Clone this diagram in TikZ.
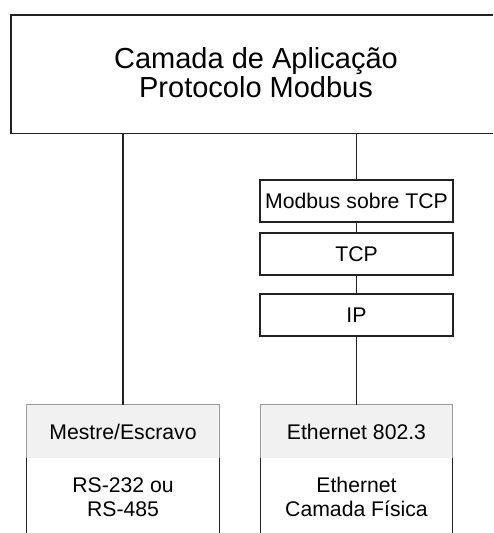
\documentclass[tikz,border=0pt]{standalone}
\usepackage{fontspec}
\setmainfont{Liberation Sans}
\definecolor{edge}{HTML}{222222}
\definecolor{headfill}{HTML}{F1F1F1}
\definecolor{headedge}{HTML}{9A9A9A}
\tikzset{
  wire/.style={draw=edge, line width=1.3pt},
  layer/.style={draw=edge, line width=1.3pt, minimum width=193pt, minimum height=42pt,
    inner sep=0pt, font=\fontsize{21.2}{24}\selectfont},
  head/.style={fill=headfill, draw=none, minimum width=192pt, minimum height=53pt,
    inner sep=0pt, font=\fontsize{21.2}{24}\selectfont},
  body/.style={draw=none, minimum width=192pt, minimum height=75pt, inner sep=0pt, anchor=north},
  bodytext/.style={align=center, inner sep=0pt, font=\fontsize{21.2}{23.5}\selectfont},
}
\begin{document}
\begin{tikzpicture}[x=1pt,y=-1pt]
\useasboundingbox (0,0) rectangle (493,533);

% application layer box, open on the right
\node[draw=none, minimum width=482pt, minimum height=118pt, inner sep=0pt, anchor=north west] (app) at (11,15) {};
\draw[wire] (app.north east) -- (app.north west) -- (app.south west) -- (app.south east);
\node[align=center, inner sep=0pt, font=\fontsize{29}{29.5}\selectfont] (apptext) at (256,72.5)
  {Camada de Aplicação\\Protocolo Modbus};

% TCP/IP stack
\node[layer] (mbt) at (356.5,201) {Modbus sobre TCP};
\node[layer] (tcp) at (356.5,254) {TCP};
\node[layer] (ip)  at (356.5,315) {IP};

% serial physical layer
\node[head] (mhead) at (123,431.5) {Mestre/Escravo};
\node[body] (mbody) at (mhead.south) {};
\node[bodytext] (mtext) at (123,497) {RS-232 ou\\RS-485};
\draw[draw=headedge, line width=1.2pt] (mhead.south west) -- (mhead.north west) -- (mhead.north east) -- (mhead.south east);
\draw[wire] (mbody.north west) -- (mbody.south west);
\draw[wire] (mbody.north east) -- (mbody.south east);

% ethernet physical layer
\node[head] (ehead) at (356.5,431.5) {Ethernet 802.3};
\node[body] (ebody) at (ehead.south) {};
\node[bodytext] (etext) at (356.5,497) {Ethernet\\Camada Física};
\draw[draw=headedge, line width=1.2pt] (ehead.south west) -- (ehead.north west) -- (ehead.north east) -- (ehead.south east);
\draw[wire] (ebody.north west) -- (ebody.south west);
\draw[wire] (ebody.north east) -- (ebody.south east);

% connectors
\draw[wire] (app.south -| mhead.north) -- (mhead.north);
\draw[wire] (app.south -| mbt.north) -- (mbt.north);
\draw[wire] (mbt) -- (tcp);
\draw[wire] (tcp) -- (ip);
\draw[wire] (ip) -- (ehead);
\end{tikzpicture}
\end{document}
